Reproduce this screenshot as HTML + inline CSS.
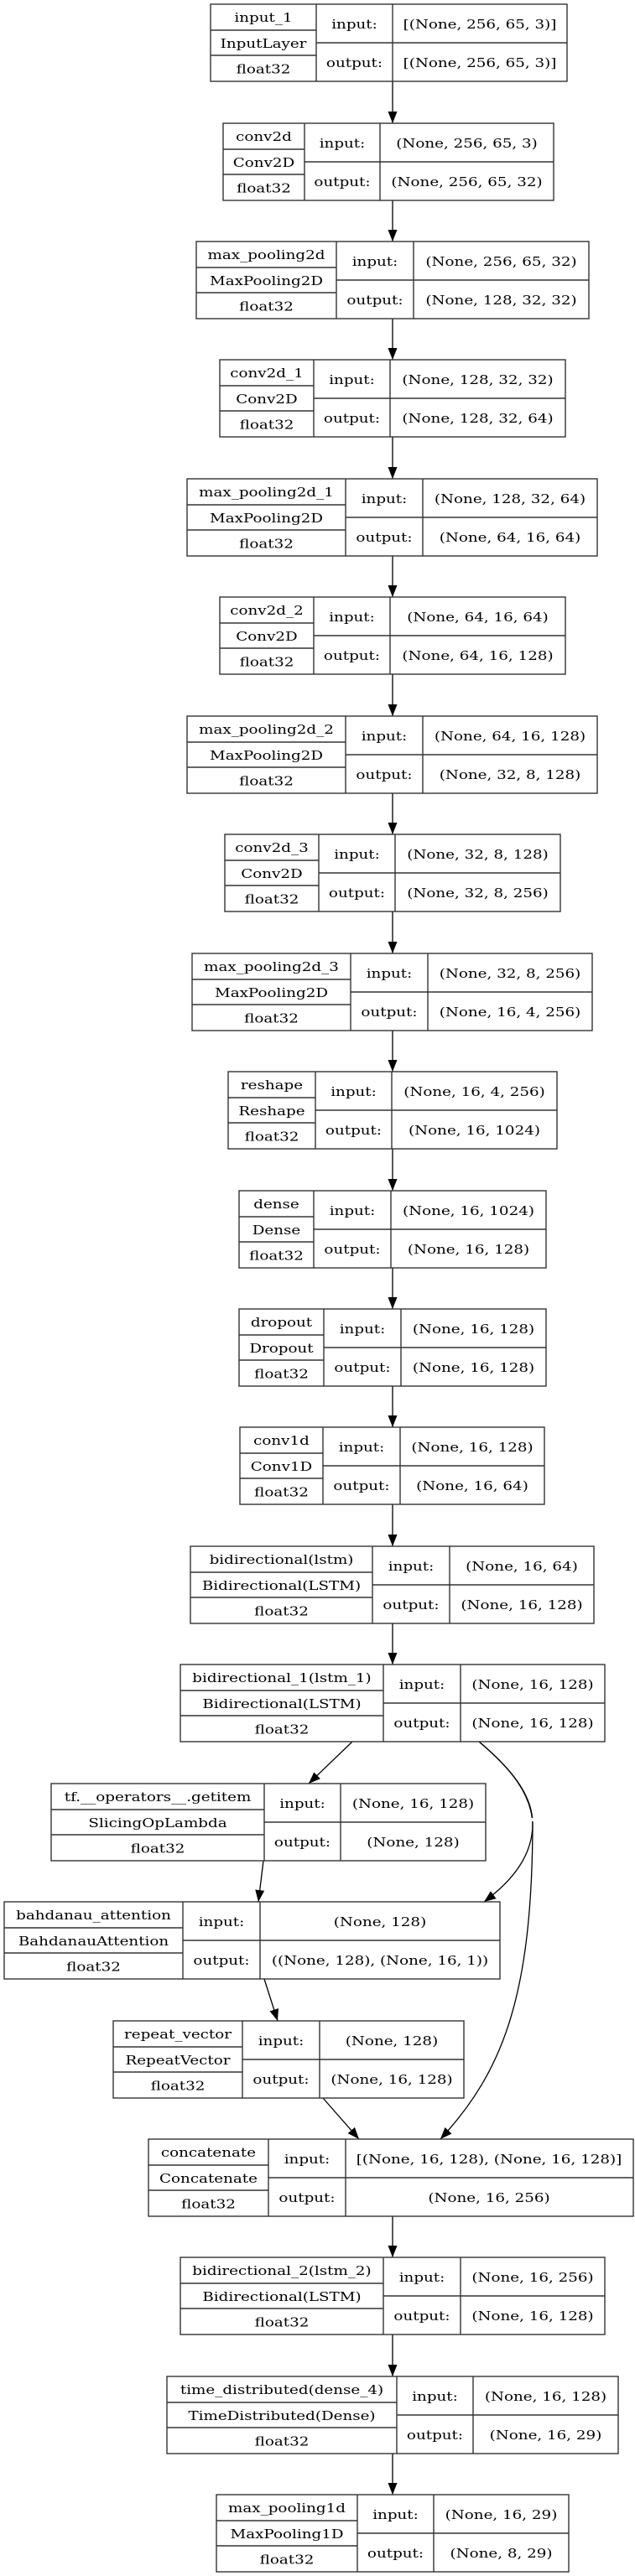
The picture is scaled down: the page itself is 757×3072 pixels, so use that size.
<!DOCTYPE html>
<html><head><meta charset="utf-8">
<style>
html,body{margin:0;padding:0;background:#fff;}
svg{display:block;}
text{font-family:"DejaVu Serif","Liberation Serif",serif;font-size:15px;fill:#000;text-anchor:middle;}
.b rect{fill:#fff;stroke:#333;stroke-width:1.4;}
.b path{fill:none;stroke:#333;stroke-width:1.4;}
.a{fill:none;stroke:#000;stroke-width:1.3;}
</style></head>
<body>
<svg width="757" height="3072" viewBox="0 0 757 3072" xmlns="http://www.w3.org/2000/svg">
<defs>
<marker id="m" markerUnits="userSpaceOnUse" markerWidth="15" markerHeight="11" refX="14" refY="5.5" orient="auto">
<path d="M0,0 L14,5.5 L0,11 z" fill="#000"/>
</marker>
</defs>

<g class="a">
<path d="M468,97 V147" marker-end="url(#m)"/>
<path d="M468,239 V288" marker-end="url(#m)"/>
<path d="M468,380 V429" marker-end="url(#m)"/>
<path d="M468,521 V571" marker-end="url(#m)"/>
<path d="M468,663 V712" marker-end="url(#m)"/>
<path d="M468,804 V854" marker-end="url(#m)"/>
<path d="M468,946 V995" marker-end="url(#m)"/>
<path d="M468,1087 V1137" marker-end="url(#m)"/>
<path d="M468,1229 V1278" marker-end="url(#m)"/>
<path d="M468,1370 V1420" marker-end="url(#m)"/>
<path d="M468,1512 V1561" marker-end="url(#m)"/>
<path d="M468,1653 V1702" marker-end="url(#m)"/>
<path d="M468,1794 V1844" marker-end="url(#m)"/>
<path d="M468,1936 V1985" marker-end="url(#m)"/>
<path d="M420,2077 L368,2127" marker-end="url(#m)"/>
<path d="M571,2077 C608,2108 635,2140 635,2175 C635,2212 612,2242 577,2268" marker-end="url(#m)"/>
<path d="M571,2077 C608,2108 635,2140 635,2178 C634,2380 600,2470 525,2551" marker-end="url(#m)"/>
<path d="M314,2219 L308,2268" marker-end="url(#m)"/>
<path d="M315,2360 L331,2410" marker-end="url(#m)"/>
<path d="M385,2502 L428,2551" marker-end="url(#m)"/>
<path d="M468,2643 V2692" marker-end="url(#m)"/>
<path d="M468,2784 V2834" marker-end="url(#m)"/>
<path d="M468,2926 V2975" marker-end="url(#m)"/>
</g>
<rect x="631" y="2168" width="8" height="4" fill="#fff"/>

<g class="b">
<g transform="translate(251,5)"><rect width="425" height="92"/><path d="M126,0V92M217,0V92M0,31H126M0,61H126M126,46H425"/></g>
<g transform="translate(266,147)"><rect width="394" height="92"/><path d="M97,0V92M187,0V92M0,31H97M0,61H97M97,46H394"/></g>
<g transform="translate(234,288)"><rect width="468" height="92"/><path d="M167,0V92M259,0V92M0,31H167M0,61H167M167,46H468"/></g>
<g transform="translate(262,429)"><rect width="412" height="92"/><path d="M112,0V92M203,0V92M0,31H112M0,61H112M112,46H412"/></g>
<g transform="translate(223,571)"><rect width="489" height="92"/><path d="M189,0V92M281,0V92M0,31H189M0,61H189M189,46H489"/></g>
<g transform="translate(262,712)"><rect width="412" height="92"/><path d="M112,0V92M203,0V92M0,31H112M0,61H112M112,46H412"/></g>
<g transform="translate(223,854)"><rect width="489" height="92"/><path d="M189,0V92M281,0V92M0,31H189M0,61H189M189,46H489"/></g>
<g transform="translate(268,995)"><rect width="400" height="92"/><path d="M112,0V92M203,0V92M0,31H112M0,61H112M112,46H400"/></g>
<g transform="translate(229,1137)"><rect width="477" height="92"/><path d="M189,0V92M281,0V92M0,31H189M0,61H189M189,46H477"/></g>
<g transform="translate(272,1278)"><rect width="392" height="92"/><path d="M104,0V92M195,0V92M0,31H104M0,61H104M104,46H392"/></g>
<g transform="translate(285,1420)"><rect width="366" height="92"/><path d="M89,0V92M181,0V92M0,31H89M0,61H89M89,46H366"/></g>
<g transform="translate(285,1561)"><rect width="366" height="92"/><path d="M101,0V92M193,0V92M0,31H101M0,61H101M101,46H366"/></g>
<g transform="translate(286,1702)"><rect width="363" height="92"/><path d="M99,0V92M191,0V92M0,31H99M0,61H99M99,46H363"/></g>
<g transform="translate(227,1844)"><rect width="481" height="92"/><path d="M217,0V92M309,0V92M0,31H217M0,61H217M217,46H481"/></g>
<g transform="translate(215,1985)"><rect width="506" height="92"/><path d="M242,0V92M334,0V92M0,31H242M0,61H242M242,46H506"/></g>
<g transform="translate(61,2127)"><rect width="518" height="92"/><path d="M254,0V92M345,0V92M0,31H254M0,61H254M254,46H518"/></g>
<g transform="translate(5,2268)"><rect width="591" height="92"/><path d="M213,0V92M305,0V92M0,31H213M0,61H213M213,46H591"/></g>
<g transform="translate(135,2410)"><rect width="418" height="92"/><path d="M154,0V92M246,0V92M0,31H154M0,61H154M154,46H418"/></g>
<g transform="translate(177,2551)"><rect width="578" height="92"/><path d="M143,0V92M235,0V92M0,31H143M0,61H143M143,46H578"/></g>
<g transform="translate(215,2692)"><rect width="506" height="92"/><path d="M242,0V92M334,0V92M0,31H242M0,61H242M242,46H506"/></g>
<g transform="translate(199,2834)"><rect width="538" height="92"/><path d="M274,0V92M365,0V92M0,31H274M0,61H274M274,46H538"/></g>
<g transform="translate(258,2975)"><rect width="420" height="92"/><path d="M168,0V92M259,0V92M0,31H168M0,61H168M168,46H420"/></g>
</g>

<g>
<text transform="translate(314,26)scale(1.22,1)">input_1</text>
<text transform="translate(314,57)scale(1.22,1)">InputLayer</text>
<text transform="translate(314,87.5)scale(1.22,1)">float32</text>
<text transform="translate(422.5,34)scale(1.22,1)">input:</text>
<text transform="translate(422.5,80)scale(1.22,1)">output:</text>
<text transform="translate(572,34)scale(1.22,1)">[(None, 256, 65, 3)]</text>
<text transform="translate(572,80)scale(1.22,1)">[(None, 256, 65, 3)]</text>

<text transform="translate(314.5,168)scale(1.22,1)">conv2d</text>
<text transform="translate(314.5,199)scale(1.22,1)">Conv2D</text>
<text transform="translate(314.5,229.5)scale(1.22,1)">float32</text>
<text transform="translate(408,176)scale(1.22,1)">input:</text>
<text transform="translate(408,222)scale(1.22,1)">output:</text>
<text transform="translate(556.5,176)scale(1.22,1)">(None, 256, 65, 3)</text>
<text transform="translate(556.5,222)scale(1.22,1)">(None, 256, 65, 32)</text>

<text transform="translate(317.5,309)scale(1.22,1)">max_pooling2d</text>
<text transform="translate(317.5,340)scale(1.22,1)">MaxPooling2D</text>
<text transform="translate(317.5,370.5)scale(1.22,1)">float32</text>
<text transform="translate(447,317)scale(1.22,1)">input:</text>
<text transform="translate(447,363)scale(1.22,1)">output:</text>
<text transform="translate(597.5,317)scale(1.22,1)">(None, 256, 65, 32)</text>
<text transform="translate(597.5,363)scale(1.22,1)">(None, 128, 32, 32)</text>

<text transform="translate(318,450)scale(1.22,1)">conv2d_1</text>
<text transform="translate(318,481)scale(1.22,1)">Conv2D</text>
<text transform="translate(318,511.5)scale(1.22,1)">float32</text>
<text transform="translate(419.5,458)scale(1.22,1)">input:</text>
<text transform="translate(419.5,504)scale(1.22,1)">output:</text>
<text transform="translate(569.5,458)scale(1.22,1)">(None, 128, 32, 32)</text>
<text transform="translate(569.5,504)scale(1.22,1)">(None, 128, 32, 64)</text>

<text transform="translate(317.5,592)scale(1.22,1)">max_pooling2d_1</text>
<text transform="translate(317.5,623)scale(1.22,1)">MaxPooling2D</text>
<text transform="translate(317.5,653.5)scale(1.22,1)">float32</text>
<text transform="translate(458,600)scale(1.22,1)">input:</text>
<text transform="translate(458,646)scale(1.22,1)">output:</text>
<text transform="translate(608,600)scale(1.22,1)">(None, 128, 32, 64)</text>
<text transform="translate(608,646)scale(1.22,1)">(None, 64, 16, 64)</text>

<text transform="translate(318,733)scale(1.22,1)">conv2d_2</text>
<text transform="translate(318,764)scale(1.22,1)">Conv2D</text>
<text transform="translate(318,794.5)scale(1.22,1)">float32</text>
<text transform="translate(419.5,741)scale(1.22,1)">input:</text>
<text transform="translate(419.5,787)scale(1.22,1)">output:</text>
<text transform="translate(569.5,741)scale(1.22,1)">(None, 64, 16, 64)</text>
<text transform="translate(569.5,787)scale(1.22,1)">(None, 64, 16, 128)</text>

<text transform="translate(317.5,875)scale(1.22,1)">max_pooling2d_2</text>
<text transform="translate(317.5,906)scale(1.22,1)">MaxPooling2D</text>
<text transform="translate(317.5,936.5)scale(1.22,1)">float32</text>
<text transform="translate(458,883)scale(1.22,1)">input:</text>
<text transform="translate(458,929)scale(1.22,1)">output:</text>
<text transform="translate(608,883)scale(1.22,1)">(None, 64, 16, 128)</text>
<text transform="translate(608,929)scale(1.22,1)">(None, 32, 8, 128)</text>

<text transform="translate(324,1016)scale(1.22,1)">conv2d_3</text>
<text transform="translate(324,1047)scale(1.22,1)">Conv2D</text>
<text transform="translate(324,1077.5)scale(1.22,1)">float32</text>
<text transform="translate(425.5,1024)scale(1.22,1)">input:</text>
<text transform="translate(425.5,1070)scale(1.22,1)">output:</text>
<text transform="translate(569.5,1024)scale(1.22,1)">(None, 32, 8, 128)</text>
<text transform="translate(569.5,1070)scale(1.22,1)">(None, 32, 8, 256)</text>

<text transform="translate(323.5,1158)scale(1.22,1)">max_pooling2d_3</text>
<text transform="translate(323.5,1189)scale(1.22,1)">MaxPooling2D</text>
<text transform="translate(323.5,1219.5)scale(1.22,1)">float32</text>
<text transform="translate(464,1166)scale(1.22,1)">input:</text>
<text transform="translate(464,1212)scale(1.22,1)">output:</text>
<text transform="translate(608,1166)scale(1.22,1)">(None, 32, 8, 256)</text>
<text transform="translate(608,1212)scale(1.22,1)">(None, 16, 4, 256)</text>

<text transform="translate(324,1299)scale(1.22,1)">reshape</text>
<text transform="translate(324,1330)scale(1.22,1)">Reshape</text>
<text transform="translate(324,1360.5)scale(1.22,1)">float32</text>
<text transform="translate(421.5,1307)scale(1.22,1)">input:</text>
<text transform="translate(421.5,1353)scale(1.22,1)">output:</text>
<text transform="translate(565.5,1307)scale(1.22,1)">(None, 16, 4, 256)</text>
<text transform="translate(565.5,1353)scale(1.22,1)">(None, 16, 1024)</text>

<text transform="translate(329.5,1441)scale(1.22,1)">dense</text>
<text transform="translate(329.5,1472)scale(1.22,1)">Dense</text>
<text transform="translate(329.5,1502.5)scale(1.22,1)">float32</text>
<text transform="translate(420,1449)scale(1.22,1)">input:</text>
<text transform="translate(420,1495)scale(1.22,1)">output:</text>
<text transform="translate(558.5,1449)scale(1.22,1)">(None, 16, 1024)</text>
<text transform="translate(558.5,1495)scale(1.22,1)">(None, 16, 128)</text>

<text transform="translate(335.5,1582)scale(1.22,1)">dropout</text>
<text transform="translate(335.5,1613)scale(1.22,1)">Dropout</text>
<text transform="translate(335.5,1643.5)scale(1.22,1)">float32</text>
<text transform="translate(432,1590)scale(1.22,1)">input:</text>
<text transform="translate(432,1636)scale(1.22,1)">output:</text>
<text transform="translate(564.5,1590)scale(1.22,1)">(None, 16, 128)</text>
<text transform="translate(564.5,1636)scale(1.22,1)">(None, 16, 128)</text>

<text transform="translate(335.5,1723)scale(1.22,1)">conv1d</text>
<text transform="translate(335.5,1754)scale(1.22,1)">Conv1D</text>
<text transform="translate(335.5,1784.5)scale(1.22,1)">float32</text>
<text transform="translate(431,1731)scale(1.22,1)">input:</text>
<text transform="translate(431,1777)scale(1.22,1)">output:</text>
<text transform="translate(563,1731)scale(1.22,1)">(None, 16, 128)</text>
<text transform="translate(563,1777)scale(1.22,1)">(None, 16, 64)</text>

<text transform="translate(335.5,1865)scale(1.22,1)">bidirectional(lstm)</text>
<text transform="translate(335.5,1896)scale(1.22,1)">Bidirectional(LSTM)</text>
<text transform="translate(335.5,1926.5)scale(1.22,1)">float32</text>
<text transform="translate(490,1873)scale(1.22,1)">input:</text>
<text transform="translate(490,1919)scale(1.22,1)">output:</text>
<text transform="translate(622,1873)scale(1.22,1)">(None, 16, 64)</text>
<text transform="translate(622,1919)scale(1.22,1)">(None, 16, 128)</text>

<text transform="translate(336,2006)scale(1.22,1)">bidirectional_1(lstm_1)</text>
<text transform="translate(336,2037)scale(1.22,1)">Bidirectional(LSTM)</text>
<text transform="translate(336,2067.5)scale(1.22,1)">float32</text>
<text transform="translate(503,2014)scale(1.22,1)">input:</text>
<text transform="translate(503,2060)scale(1.22,1)">output:</text>
<text transform="translate(635,2014)scale(1.22,1)">(None, 16, 128)</text>
<text transform="translate(635,2060)scale(1.22,1)">(None, 16, 128)</text>

<text transform="translate(188,2148)scale(1.22,1)">tf.__operators__.getitem</text>
<text transform="translate(188,2179)scale(1.22,1)">SlicingOpLambda</text>
<text transform="translate(188,2209.5)scale(1.22,1)">float32</text>
<text transform="translate(360.5,2156)scale(1.22,1)">input:</text>
<text transform="translate(360.5,2202)scale(1.22,1)">output:</text>
<text transform="translate(492.5,2156)scale(1.22,1)">(None, 16, 128)</text>
<text transform="translate(492.5,2202)scale(1.22,1)">(None, 128)</text>

<text transform="translate(111.5,2289)scale(1.22,1)">bahdanau_attention</text>
<text transform="translate(111.5,2320)scale(1.22,1)">BahdanauAttention</text>
<text transform="translate(111.5,2350.5)scale(1.22,1)">float32</text>
<text transform="translate(264,2297)scale(1.22,1)">input:</text>
<text transform="translate(264,2343)scale(1.22,1)">output:</text>
<text transform="translate(453,2297)scale(1.22,1)">(None, 128)</text>
<text transform="translate(453,2343)scale(1.22,1)">((None, 128), (None, 16, 1))</text>

<text transform="translate(212,2431)scale(1.22,1)">repeat_vector</text>
<text transform="translate(212,2462)scale(1.22,1)">RepeatVector</text>
<text transform="translate(212,2492.5)scale(1.22,1)">float32</text>
<text transform="translate(335,2439)scale(1.22,1)">input:</text>
<text transform="translate(335,2485)scale(1.22,1)">output:</text>
<text transform="translate(467,2439)scale(1.22,1)">(None, 128)</text>
<text transform="translate(467,2485)scale(1.22,1)">(None, 16, 128)</text>

<text transform="translate(248.5,2572)scale(1.22,1)">concatenate</text>
<text transform="translate(248.5,2603)scale(1.22,1)">Concatenate</text>
<text transform="translate(248.5,2633.5)scale(1.22,1)">float32</text>
<text transform="translate(366,2580)scale(1.22,1)">input:</text>
<text transform="translate(366,2626)scale(1.22,1)">output:</text>
<text transform="translate(583,2580)scale(1.22,1)">[(None, 16, 128), (None, 16, 128)]</text>
<text transform="translate(583,2626)scale(1.22,1)">(None, 16, 256)</text>

<text transform="translate(336,2713)scale(1.22,1)">bidirectional_2(lstm_2)</text>
<text transform="translate(336,2744)scale(1.22,1)">Bidirectional(LSTM)</text>
<text transform="translate(336,2774.5)scale(1.22,1)">float32</text>
<text transform="translate(503,2721)scale(1.22,1)">input:</text>
<text transform="translate(503,2767)scale(1.22,1)">output:</text>
<text transform="translate(635,2721)scale(1.22,1)">(None, 16, 256)</text>
<text transform="translate(635,2767)scale(1.22,1)">(None, 16, 128)</text>

<text transform="translate(336,2855)scale(1.22,1)">time_distributed(dense_4)</text>
<text transform="translate(336,2886)scale(1.22,1)">TimeDistributed(Dense)</text>
<text transform="translate(336,2916.5)scale(1.22,1)">float32</text>
<text transform="translate(518.5,2863)scale(1.22,1)">input:</text>
<text transform="translate(518.5,2909)scale(1.22,1)">output:</text>
<text transform="translate(650.5,2863)scale(1.22,1)">(None, 16, 128)</text>
<text transform="translate(650.5,2909)scale(1.22,1)">(None, 16, 29)</text>

<text transform="translate(342,2996)scale(1.22,1)">max_pooling1d</text>
<text transform="translate(342,3027)scale(1.22,1)">MaxPooling1D</text>
<text transform="translate(342,3057.5)scale(1.22,1)">float32</text>
<text transform="translate(471.5,3004)scale(1.22,1)">input:</text>
<text transform="translate(471.5,3050)scale(1.22,1)">output:</text>
<text transform="translate(597.5,3004)scale(1.22,1)">(None, 16, 29)</text>
<text transform="translate(597.5,3050)scale(1.22,1)">(None, 8, 29)</text>
</g>
</svg>
</body></html>
